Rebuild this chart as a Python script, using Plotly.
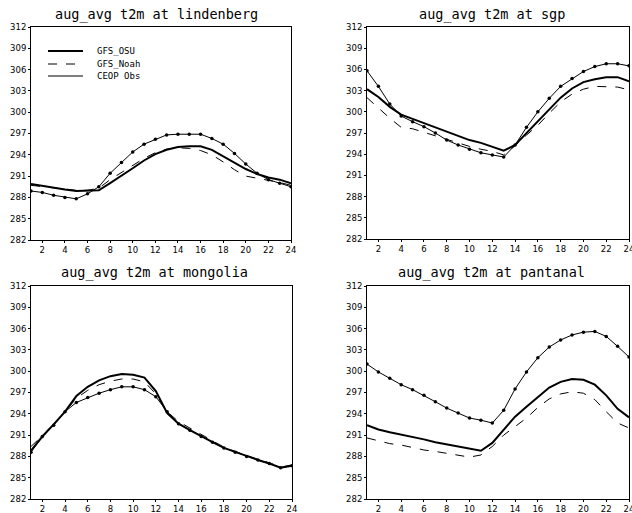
import plotly.graph_objects as go

hours = list(range(1, 25))

# lindenberg
lin_osu = [289.9, 289.6, 289.4, 289.1, 288.9, 288.9, 289.0, 290.0, 291.0, 292.1, 293.2, 294.1,
           294.7, 295.1, 295.2, 295.2, 294.7, 293.8, 292.9, 292.0, 291.3, 290.8, 290.5, 290.0]
lin_noah = [289.7, 289.5, 289.3, 289.1, 289.0, 289.0, 289.3, 290.5, 291.5, 292.6, 293.5, 294.3,
            294.8, 295.0, 294.9, 294.6, 294.0, 293.0, 291.9, 291.0, 290.7, 290.5, 290.1, 289.7]
lin_obs = [288.9, 288.7, 288.3, 288.0, 287.8, 288.5, 289.5, 291.4, 292.9, 294.4, 295.5, 296.2,
           296.8, 296.9, 296.9, 296.9, 296.3, 295.5, 294.2, 292.7, 291.4, 290.5, 290.0, 289.5]

# sgp
sgp_osu = [303.2, 302.1, 300.7, 299.6, 299.0, 298.4, 297.8, 297.1, 296.5, 296.0, 295.6, 295.1,
           294.5, 295.3, 297.0, 298.6, 300.3, 302.0, 303.3, 304.2, 304.6, 304.9, 304.9, 304.3]
sgp_noah = [302.0, 300.5, 299.1, 297.8, 297.6, 297.1, 296.6, 296.0, 295.6, 295.1, 294.7, 294.4,
            293.9, 295.2, 296.7, 298.1, 299.8, 301.4, 302.5, 303.2, 303.6, 303.6, 303.5, 303.1]
sgp_obs = [305.8, 303.6, 301.1, 299.4, 298.6, 297.9, 297.0, 296.0, 295.3, 294.7, 294.2, 293.9,
           293.6, 295.3, 297.8, 300.0, 301.9, 303.6, 304.7, 305.7, 306.4, 306.8, 306.8, 306.5]

# mongolia
mon_osu = [288.8, 290.8, 292.5, 294.3, 296.5, 297.8, 298.7, 299.3, 299.6, 299.5, 299.1, 297.2,
           294.1, 292.6, 291.7, 290.8, 290.0, 289.2, 288.6, 288.0, 287.5, 287.0, 286.4, 286.7]
mon_noah = [289.4, 290.9, 292.6, 294.3, 296.2, 297.3, 298.1, 298.6, 298.9, 298.9, 298.5, 296.8,
            294.3, 292.9, 292.0, 291.1, 290.2, 289.3, 288.7, 288.1, 287.6, 287.1, 286.5, 286.8]
mon_obs = [288.6, 290.8, 292.4, 294.3, 295.6, 296.3, 296.9, 297.4, 297.8, 297.8, 297.4, 296.4,
           294.3, 292.6, 291.7, 290.8, 290.0, 289.2, 288.6, 288.0, 287.5, 287.0, 286.4, 286.7]

# pantanal
pan_osu = [292.4, 291.8, 291.4, 291.1, 290.8, 290.4, 290.0, 289.7, 289.5, 289.1, 288.8, 289.9,
           291.8, 293.6, 295.0, 296.4, 297.7, 298.5, 298.9, 298.8, 298.1, 296.6, 294.7, 293.5]
pan_noah = [290.6, 290.2, 289.8, 289.6, 289.2, 288.9, 288.7, 288.4, 288.2, 287.9, 288.2, 289.4,
            291.0, 292.2, 293.4, 294.9, 296.1, 296.8, 297.1, 296.9, 296.0, 294.3, 292.7, 292.0]
pan_obs = [301.0, 299.9, 299.0, 298.1, 297.4, 296.6, 295.7, 294.8, 294.1, 293.4, 293.1, 292.7,
           294.5, 297.5, 299.9, 301.9, 303.4, 304.4, 305.1, 305.5, 305.6, 304.9, 303.5, 302.0]

titles = ["aug_avg t2m at lindenberg", "aug_avg t2m at sgp",
          "aug_avg t2m at mongolia", "aug_avg t2m at pantanal"]
series_names = ["GFS_OSU", "GFS_Noah", "CEOP Obs"]
panels = [
    (lin_osu, lin_noah, lin_obs),
    (sgp_osu, sgp_noah, sgp_obs),
    (mon_osu, mon_noah, mon_obs),
    (pan_osu, pan_noah, pan_obs),
]
y_ticks = list(range(282, 313, 3))
x_ticks = list(range(2, 25, 2))

W, H = 632, 513
# pixel boxes of the four panels (left, right, top, bottom)
boxes = [(31, 291, 27, 240), (367, 629, 27, 239), (31, 292, 286, 499), (367, 629, 286, 499)]
title_px = [(156, 25), (492, 25), (154, 283), (491, 283)]

styles = [
    dict(mode="lines", line=dict(color="black", width=2)),
    dict(mode="lines", line=dict(color="black", width=1, dash="dash")),
    dict(mode="lines+markers", line=dict(color="black", width=1),
         marker=dict(color="black", size=3.5, symbol="circle")),
]

fig = go.Figure()
layout = dict(
    width=W, height=H, margin=dict(l=0, r=0, t=0, b=0, autoexpand=False),
    paper_bgcolor="white", plot_bgcolor="white",
    showlegend=False, hovermode=False,
    annotations=[], shapes=[],
)

for i, (data, (l, r, t, b)) in enumerate(zip(panels, boxes)):
    xa = "x" if i == 0 else f"x{i+1}"
    ya = "y" if i == 0 else f"y{i+1}"
    for j, vals in enumerate(data):
        fig.add_trace(go.Scatter(x=hours, y=vals, name=series_names[j], xaxis=xa, yaxis=ya,
                                 hoverinfo="skip", **styles[j]))
    axis_common = dict(showline=True, linecolor="black", linewidth=1, mirror=True,
                       showgrid=False, zeroline=False, ticks="outside", ticklen=2,
                       tickcolor="black", automargin=False, ticklabeloverflow="allow",
                       tickfont=dict(family="DejaVu Sans", size=8.5, color="black"))
    kx = "xaxis" if i == 0 else f"xaxis{i+1}"
    ky = "yaxis" if i == 0 else f"yaxis{i+1}"
    layout[kx] = dict(domain=[l / W, r / W], range=[1, 24], tickvals=x_ticks,
                      anchor=ya, **axis_common)
    layout[ky] = dict(domain=[1 - b / H, 1 - t / H], range=[282, 312], tickvals=y_ticks,
                      anchor=xa, **axis_common)
    cx, cy = title_px[i]
    layout["annotations"].append(dict(
        text=titles[i], xref="paper", yref="paper", x=cx / W, y=1 - cy / H,
        xanchor="center", yanchor="bottom", showarrow=False,
        font=dict(family="DejaVu Sans Mono", size=13.5, color="black")))

# legend in the first panel (sample lines + labels)
leg_rows = [51, 64, 76]
leg_dash = ["solid", "dash", "solid"]
leg_width = [2, 1, 1]
for k, name in enumerate(series_names):
    yy = 1 - leg_rows[k] / H
    layout["shapes"].append(dict(type="line", xref="paper", yref="paper",
                                 x0=48 / W, x1=83 / W, y0=yy, y1=yy,
                                 line=dict(color="black", width=leg_width[k], dash=leg_dash[k])))
    layout["annotations"].append(dict(
        text=name, xref="paper", yref="paper", x=95 / W, y=yy,
        xanchor="left", yanchor="middle", showarrow=False,
        font=dict(family="DejaVu Sans Mono", size=9, color="black")))

fig.update_layout(**layout)
fig.write_html("out.html", config={"displayModeBar": False, "staticPlot": True},
               post_script="document.body.style.margin='0px';document.body.style.overflow='hidden';")
